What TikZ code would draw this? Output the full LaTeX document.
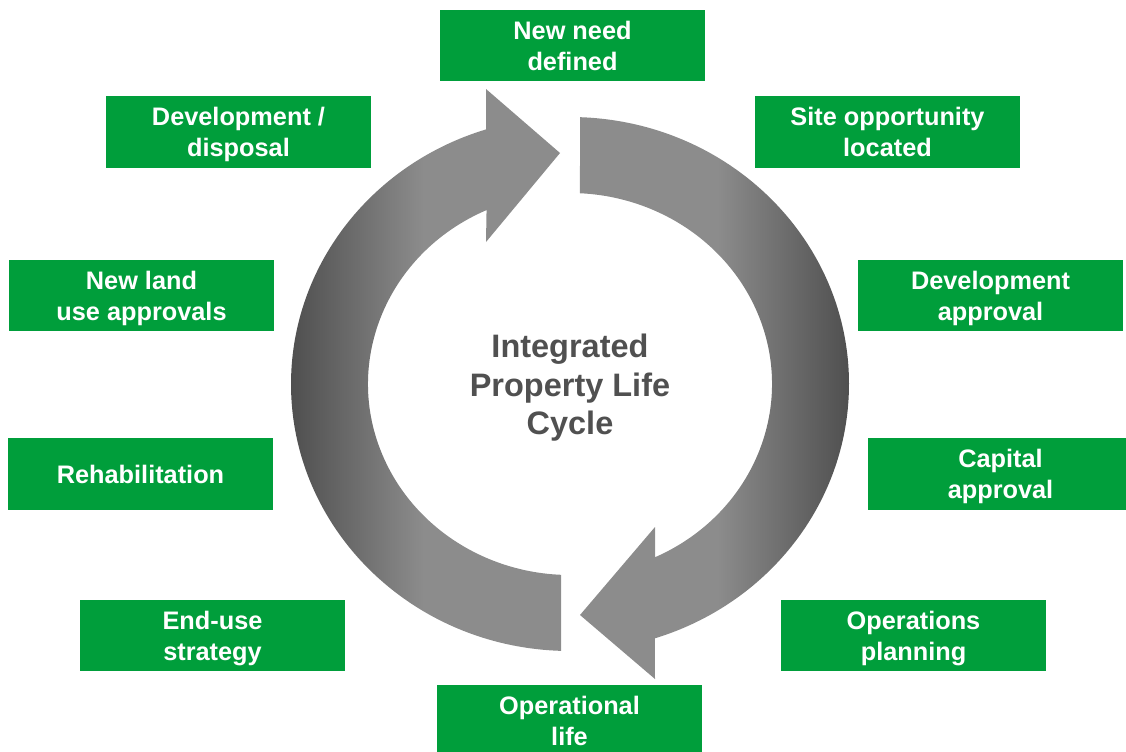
\documentclass[tikz,border=0pt]{standalone}
\usepackage{fontspec}
\setmainfont{Liberation Sans}
\usetikzlibrary{calc}

\definecolor{stagegreen}{RGB}{0,158,59}
\definecolor{ringdark}{RGB}{77,77,77}
\definecolor{ringlight}{RGB}{140,140,140}
\definecolor{hubtext}{RGB}{80,80,80}

\begin{document}
\begin{tikzpicture}[
  x=0.025cm, y=-0.025cm,
  stagebox/.style={fill=stagegreen, text=white, minimum width=6.625cm, minimum height=1.775cm, inner sep=0pt, text depth=0pt, align=center, font=\bfseries\fontsize{18}{22}\selectfont},
  hublabel/.style={text=hubtext, align=center, font=\bfseries\fontsize{23.1}{27.4}\selectfont},
  ringleft/.style={left color=ringdark, right color=ringlight, middle color=ringlight},
  ringright/.style={left color=ringlight, right color=ringdark, middle color=ringlight}
]
\useasboundingbox (0,0) rectangle (1126,751);
\clip (0,0) rectangle (1126,751);
\coordinate (hub) at (570,384);

% the two arrows of the cycle
\shade[ringleft] ($(hub)+(91.85:279 and 267)$) arc[start angle=91.85, end angle=252.5, x radius=279, y radius=267]
  -- (486,89) -- (560,153) -- (486,242)
  -- ($(hub)+(245.6:202 and 191)$) arc[start angle=245.6, end angle=92.55, x radius=202, y radius=191] -- cycle;
\shade[ringright] ($(hub)+(-87.9:279 and 267)$) arc[start angle=-87.9, end angle=72.3, x radius=279, y radius=267]
  -- (655,679) -- (580,615) -- (655,527)
  -- ($(hub)+(65.1:202 and 191)$) arc[start angle=65.1, end angle=-87.2, x radius=202, y radius=191] -- cycle;

\node[hublabel] (Hub) at (570,388) {Integrated\\Property Life\\Cycle};

\node[stagebox] (Need) at (572.5,45.5) {New need\\defined};
\node[stagebox] (Site) at (887.5,132) {Site opportunity\\located};
\node[stagebox] (DevAppr) at (990.5,295.5) {Development\\approval};
\node[stagebox] (Capital) at (1000.5,474) {Capital\\approval};
\node[stagebox] (OpsPlan) at (913.5,635.5) {Operations\\planning};
\node[stagebox] (OpLife) at (569.5,720.5) {Operational\\life};
\node[stagebox] (EndUse) at (212.5,635.5) {End-use\\strategy};
\node[stagebox] (Rehab) at (140.5,474) {Rehabilitation};
\node[stagebox] (LandUse) at (141.5,295.5) {New land\\use approvals};
\node[stagebox] (Disposal) at (238.5,132) {Development /\\disposal};
\end{tikzpicture}
\end{document}
